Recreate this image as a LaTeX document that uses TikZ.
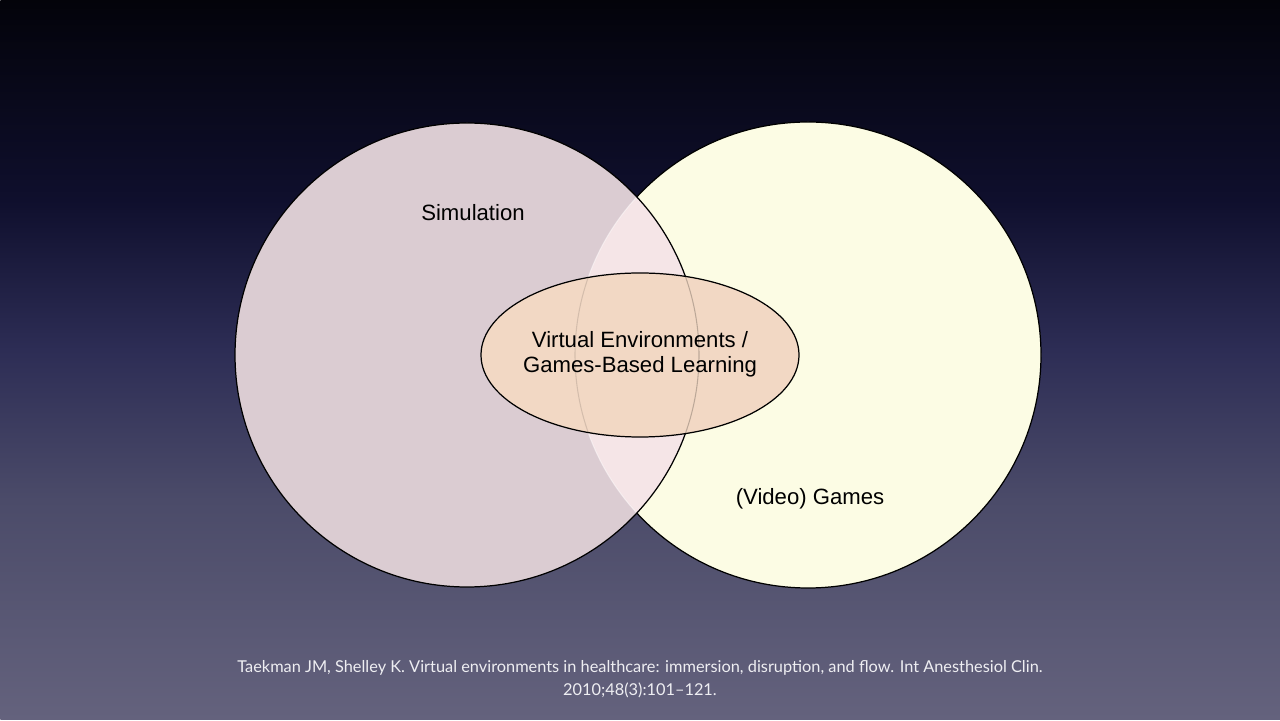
\documentclass[tikz,border=0pt]{standalone}
\usepackage{fontspec}
\setmainfont{Liberation Sans}
\newfontfamily\citefont[Ligatures=TeX]{Lato}
\usetikzlibrary{shapes.geometric}
\definecolor{bgA}{RGB}{100,98,125}
\definecolor{bgB}{RGB}{75,75,105}
\definecolor{bgC}{RGB}{45,45,85}
\definecolor{bgD}{RGB}{15,15,45}
\definecolor{bgE}{RGB}{3,3,10}
\definecolor{leftc}{RGB}{219,204,210}
\definecolor{rightc}{RGB}{252,252,228}
\definecolor{overc}{RGB}{245,229,231}
\definecolor{ellc}{RGB}{242,216,196}
\definecolor{citec}{RGB}{238,238,242}
\pgfdeclareverticalshading{bgshade}{25.6cm}{color(0cm)=(bgA); color(4.4cm)=(bgB); color(7.4cm)=(bgC); color(10.4cm)=(bgD); color(14.4cm)=(bgE)}
\tikzset{
  label/.style={font=\fontsize{12.6pt}{14.2pt}\selectfont, text=black, inner sep=0pt},
  outline/.style={draw=black, line width=0.7pt},
}
\begin{document}
\begin{tikzpicture}
\useasboundingbox (0,0) rectangle (25.6,14.4);
\node[anchor=south west, inner sep=0pt] (bg) at (0,0) {\pgfuseshading{bgshade}};
\coordinate (L) at (9.34,7.30);
\coordinate (R) at (16.16,7.30);
% right circle
\fill[rightc] (R) circle (4.66);
\draw[outline] (R) circle (4.66);
% left circle
\fill[leftc] (L) circle (4.64);
\begin{scope}
  \clip (L) circle (4.64);
  \fill[overc] (R) circle (4.66);
  \draw[line width=0.6pt, white, opacity=0.45] (R) circle (4.66);
\end{scope}
\draw[outline] (L) circle (4.64);
% ellipse
\node[ellipse, fill=ellc, outline, minimum width=6.36cm, minimum height=3.28cm, inner sep=0pt] (E) at (12.8,7.3) {};
\begin{scope}
  \clip (12.8,7.3) ellipse (3.17 and 1.63);
  \draw[line width=0.6pt, black, opacity=0.22] (L) circle (4.64);
  \draw[line width=0.6pt, black, opacity=0.12] (R) circle (4.66);
\end{scope}
\node[label, align=center] (vgbl) at (12.8,7.32) {Virtual Environments /\\Games-Based Learning};
\node[label] (sim) at (9.46,10.14) {Simulation};
\node[label] (games) at (16.2,4.42) {(Video) Games};
\node[font=\citefont\fontsize{9.3pt}{13pt}\selectfont, text=citec, align=center, inner sep=0pt] (cite) at (12.8,0.81)
  {Taekman JM, Shelley K. Virtual environments in healthcare: immersion, disruption, and flow. Int Anesthesiol Clin.\\2010;48(3):101–121.};
\end{tikzpicture}
\end{document}
